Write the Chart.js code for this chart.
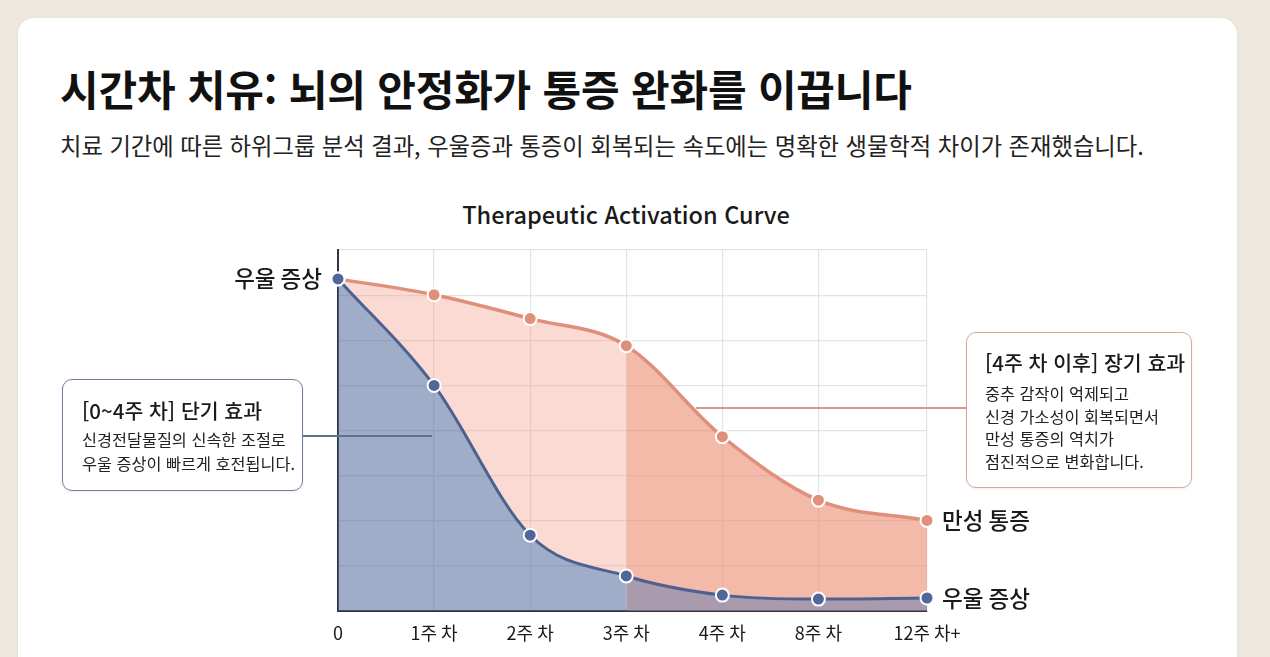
<!DOCTYPE html>
<html lang="ko">
<head>
<meta charset="utf-8">
<title>Therapeutic Activation Curve</title>
<script src="https://cdn.jsdelivr.net/npm/chart.js@4.4.1/dist/chart.umd.min.js"></script>
<style>
  html, body { margin: 0; padding: 0; }
  body {
    width: 1270px; height: 657px; overflow: hidden; position: relative;
    background: #efe8df;
    font-family: 'Noto Sans CJK KR', 'Noto Sans', sans-serif;
    color: #1a1a1a;
  }
  .card {
    position: absolute; left: 18px; top: 18px; width: 1219px; height: 700px;
    background: #fff; border-radius: 16px;
    box-shadow: 0 1px 4px rgba(0,0,0,0.06);
  }
  .title {
    position: absolute; left: 60px; top: 59px; margin: 0;
    font-size: 42px; font-weight: 700; line-height: 58px; letter-spacing: -0.2px;
    color: #111; white-space: nowrap;
  }
  .subtitle {
    position: absolute; left: 60px; top: 128px; margin: 0;
    font-size: 23.3px; font-weight: 400; line-height: 34px; color: #222; white-space: nowrap;
  }
  .chart-title {
    position: absolute; left: 326px; width: 600px; top: 197px; text-align: center;
    font-size: 23.5px; font-weight: 500; line-height: 34px; color: #1a1a1a;
  }
  #chart { position: absolute; left: 0; top: 0; }
  .callout {
    position: absolute; background: #fff; border-radius: 10px; box-sizing: border-box;
    box-shadow: 0 1px 3px rgba(0,0,0,0.08);
  }
  .callout h3 { margin: 0; font-size: 20.5px; font-weight: 500; line-height: 28px; color: #1a1a1a; white-space: nowrap; }
  .callout p { margin: 0; font-size: 16.3px; color: #222; white-space: nowrap; }
  .short { left: 62px; top: 379px; width: 241px; height: 112px; border: 1.5px solid #6f8299; padding: 16px 0 0 19px; }
  .short p { line-height: 24px; margin-top: 3px; }
  .long { left: 966px; top: 332px; width: 226px; height: 156px; border: 1.5px solid #d9aa9a; padding: 15px 0 0 18px; }
  .long p { line-height: 22.5px; margin-top: 6px; }
  .link { position: absolute; height: 0; }
  .link.short-link { left: 303px; top: 435px; width: 129px; border-top: 2px solid #5f7191; }
  .link.long-link { left: 696px; top: 407px; width: 270px; border-top: 2px solid #d4998a; }
</style>
</head>
<body>
<div class="card"></div>
<h1 class="title">시간차 치유: 뇌의 안정화가 통증 완화를 이끕니다</h1>
<p class="subtitle">치료 기간에 따른 하위그룹 분석 결과, 우울증과 통증이 회복되는 속도에는 명확한 생물학적 차이가 존재했습니다.</p>
<div class="chart-title">Therapeutic Activation Curve</div>
<canvas id="chart" width="1270" height="657"></canvas>

<div class="link short-link"></div>
<div class="link long-link"></div>
<div class="callout short">
  <h3>[0~4주 차] 단기 효과</h3>
  <p>신경전달물질의 신속한 조절로<br>우울 증상이 빠르게 호전됩니다.</p>
</div>
<div class="callout long">
  <h3>[4주 차 이후] 장기 효과</h3>
  <p>중추 감작이 억제되고<br>신경 가소성이 회복되면서<br>만성 통증의 역치가<br>점진적으로 변화합니다.</p>
</div>

<script>
// time points (the last step, 8 -> 12+ weeks, is drawn a little wider)
const weekLabels = ['0', '1주 차', '2주 차', '3주 차', '4주 차', '8주 차', '12주 차+'];
const weekPos = [0, 1, 2, 3, 4, 5, 6.13];

// symptom level, 0-100
const depression = [92, 62.5, 21, 9.7, 4.4, 3.3, 3.6];
const chronicPain = [92, 87.6, 81, 73.5, 48.3, 30.7, 25.1];

const seriesNames = ['만성 통증', '우울 증상'];
const phaseSplit = 3; // index where the long-term phase starts

const FONT = "'Noto Sans CJK KR', 'Noto Sans', sans-serif";

const toPoints = vals => vals.map((v, i) => ({ x: weekPos[i], y: v }));

const endLabels = {
  id: 'endLabels',
  afterDatasetsDraw(chart) {
    const ctx = chart.ctx;
    ctx.save();
    ctx.font = '500 22.5px ' + FONT;
    ctx.fillStyle = '#1a1a1a';
    ctx.textBaseline = 'middle';
    chart.data.datasets.forEach((ds, i) => {
      const pts = chart.getDatasetMeta(i).data;
      const last = pts[pts.length - 1];
      ctx.textAlign = 'left';
      ctx.fillText(ds.label, last.x + 15, last.y);
      if (ds.label === '우울 증상') {
        ctx.textAlign = 'right';
        ctx.fillText(ds.label, pts[0].x - 16, pts[0].y);
      }
    });
    ctx.restore();
  }
};

new Chart(document.getElementById('chart'), {
  type: 'line',
  data: {
    datasets: [
      {
        label: seriesNames[0],
        data: toPoints(chronicPain),
        borderColor: '#e0907a',
        borderWidth: 3.5,
        pointBackgroundColor: '#e0907a',
        pointBorderColor: '#fff',
        pointBorderWidth: 2,
        pointRadius: 6.5,
        fill: '+1',
        backgroundColor: 'rgba(240,150,125,0.35)',
        segment: {
          backgroundColor: c => c.p0DataIndex >= phaseSplit ? 'rgba(236,140,112,0.6)' : 'rgba(240,150,125,0.35)'
        },
        cubicInterpolationMode: 'monotone',
        clip: false,
        order: 1
      },
      {
        label: seriesNames[1],
        data: toPoints(depression),
        borderColor: '#4d6191',
        borderWidth: 3,
        pointBackgroundColor: '#51669a',
        pointBorderColor: '#fff',
        pointBorderWidth: 2,
        pointRadius: 6.5,
        fill: 'origin',
        backgroundColor: 'rgba(80,105,155,0.55)',
        segment: {
          backgroundColor: c => c.p0DataIndex >= phaseSplit ? 'rgba(140,120,145,0.75)' : 'rgba(80,105,155,0.55)'
        },
        cubicInterpolationMode: 'monotone',
        clip: false,
        order: 0
      }
    ]
  },
  options: {
    responsive: false,
    animation: false,
    layout: { padding: { left: 338, right: 343, top: 250, bottom: 6 } },
    plugins: {
      legend: { display: false },
      tooltip: { enabled: false },
      title: { display: false },
      filler: { drawTime: 'beforeDatasetsDraw' }
    },
    scales: {
      x: {
        type: 'linear',
        min: weekPos[0],
        max: weekPos[weekPos.length - 1],
        afterBuildTicks: axis => { axis.ticks = weekPos.map(v => ({ value: v })); },
        afterFit: s => { s.height = 40; },
        grid: { color: '#e3e3e3', lineWidth: 1.2, drawTicks: false },
        border: { display: true, color: '#2f3440', width: 2 },
        ticks: {
          padding: 11,
          color: '#1a1a1a',
          font: { family: FONT, size: 18 },
          maxRotation: 0,
          autoSkip: false,
          callback: (v, i) => weekLabels[i]
        }
      },
      y: {
        min: 0,
        max: 100,
        afterFit: s => { s.width = 0; },
        grid: { color: '#e3e3e3', lineWidth: 1.2, drawTicks: false },
        border: { display: true, color: '#2f3440', width: 2 },
        ticks: { display: false, stepSize: 12.5 }
      }
    }
  },
  plugins: [endLabels]
});
</script>
</body>
</html>
